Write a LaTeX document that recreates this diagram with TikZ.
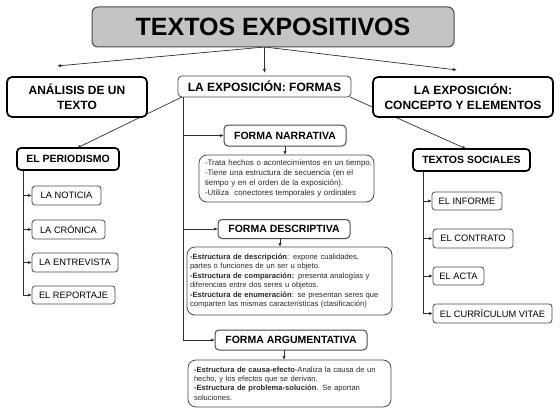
\documentclass[tikz,border=0pt]{standalone}
\usepackage{fontspec}
\setmainfont{Liberation Sans}
\usetikzlibrary{arrows.meta,backgrounds}
\definecolor{titlegray}{HTML}{C4C4C4}
\definecolor{edgegray}{HTML}{4A4A4A}
\definecolor{linegray}{HTML}{303030}
\definecolor{txtgray}{HTML}{2A2A2A}
\begin{document}
\begin{tikzpicture}[x=1pt,y=-1pt,
  base/.style={draw, fill=white, inner sep=0pt, outer sep=0pt, align=center},
  titlebox/.style={base, fill=titlegray, draw=edgegray, line width=1pt, rounded corners=6pt,
    font=\fontsize{25}{30}\selectfont\bfseries},
  mainbox/.style={base, draw=black, line width=1.7pt, rounded corners=5pt,
    font=\fontsize{12}{15}\selectfont\bfseries},
  formasbox/.style={base, draw=edgegray, line width=0.8pt, rounded corners=4pt,
    font=\fontsize{12}{15}\selectfont\bfseries},
  groupbox/.style={base, draw=black, line width=1.7pt, rounded corners=4pt,
    font=\fontsize{10.5}{13}\selectfont\bfseries},
  formbox/.style={base, draw=edgegray, line width=1pt, rounded corners=4pt,
    font=\fontsize{10.5}{13}\selectfont\bfseries},
  itembox/.style={base, draw=edgegray, line width=0.8pt, rounded corners=3pt,
    font=\fontsize{9.3}{11}\selectfont},
  textbox/.style={base, draw=edgegray, line width=0.8pt, rounded corners=8pt,
    align=left, text=txtgray, inner xsep=5pt,
    font=\fontsize{7.6}{9.4}\selectfont},
  conn/.style={draw=linegray, line width=0.7pt},
  arr/.style={conn, -{Latex[length=4pt,width=3.2pt]}}
]
\useasboundingbox (0,0) rectangle (560,420);

% top level
\node[titlebox, minimum width=362, minimum height=40] (title) at (273,27) {TEXTOS EXPOSITIVOS};
\node[mainbox, minimum width=140, minimum height=40] (analisis) at (77,97) {ANÁLISIS DE UN\\TEXTO};
\node[formasbox, minimum width=173, minimum height=21] (formas) at (264.5,86.5) {LA EXPOSICIÓN: FORMAS};
\node[mainbox, minimum width=180, minimum height=40] (concepto) at (463,97) {LA EXPOSICIÓN:\\CONCEPTO Y ELEMENTOS};

% left branch
\node[groupbox, minimum width=102, minimum height=22] (periodismo) at (68,159) {EL PERIODISMO};
\node[itembox, minimum width=69, minimum height=19] (noticia) at (66.5,195.5) {LA NOTICIA};
\node[itembox, minimum width=73, minimum height=19] (cronica) at (68.5,229.5) {LA CRÓNICA};
\node[itembox, minimum width=86, minimum height=19] (entrevista) at (75,262.5) {LA ENTREVISTA};
\node[itembox, minimum width=83, minimum height=18] (reportaje) at (73.5,295) {EL REPORTAJE};

% right branch
\node[groupbox, minimum width=117, minimum height=22] (sociales) at (471.5,160) {TEXTOS SOCIALES};
\node[itembox, minimum width=70, minimum height=18] (informe) at (467,201) {EL INFORME};
\node[itembox, minimum width=80, minimum height=19] (contrato) at (473,238.5) {EL CONTRATO};
\node[itembox, minimum width=51, minimum height=18] (acta) at (458.5,276) {EL ACTA};
\node[itembox, minimum width=119, minimum height=19] (curriculum) at (492.5,313.5) {EL CURRÍCULUM VITAE};

% middle branch
\node[formbox, minimum width=122, minimum height=21] (narrh) at (285,135.5) {FORMA NARRATIVA};
\node[textbox, inner xsep=6pt, text width=163, minimum height=47, font=\fontsize{7.9}{10}\selectfont] (narrt) at (286.5,178.5)
  {\mbox{-Trata hechos o acontecimientos en un tiempo.}\\
   \mbox{-Tiene una estructura de secuencia (en el}\\
   \mbox{tiempo y en el orden de la exposición).}\\
   \mbox{-Utiliza\ \ conectores temporales y ordinales}};

\node[formbox, minimum width=132, minimum height=19] (desch) at (284,229) {FORMA DESCRIPTIVA};
\node[textbox, inner xsep=3pt, text width=199, minimum height=68] (desct) at (289.5,281)
  {\mbox{\textbf{-Estructura de descripción}: expone cualidades,}\\
   \mbox{partes o funciones de un ser u objeto.}\\
   \mbox{\textbf{-Estructura de comparación:} presenta analogías y}\\
   \mbox{diferencias entre dos seres u objetos.}\\
   \mbox{\textbf{-Estructura de enumeración}: se presentan seres que}\\
   \mbox{comparten las mismas características (clasificación)}};

\node[formbox, minimum width=152, minimum height=20] (argh) at (291,340) {FORMA ARGUMENTATIVA};
\node[textbox, inner xsep=6pt, text width=191, minimum height=47] (argt) at (289.5,383.5)
  {\mbox{\textbf{-Estructura de causa-efecto}-Analiza la causa de un}\\
   \mbox{hecho, y los efectos que se derivan.}\\
   \mbox{\textbf{-Estructura de problema-solución}. Se aportan}\\
   \mbox{soluciones.}};

% connectors (behind the boxes)
\coordinate (tl) at (57,66);
\coordinate (tr) at (457,70);
\coordinate (ts) at (formas.north |- title.south);
\coordinate (pv) at ([xshift=6pt]periodismo.south west);
\coordinate (sv) at ([xshift=10pt]sociales.south west);
\coordinate (fv) at ([xshift=5pt]formas.south west);

\begin{scope}[on background layer]
\draw[arr] (ts) -- (tl);
\draw[arr, shorten >=3pt] (ts) -- (formas.north);
\draw[arr] (ts) -- (tr);

\draw[arr] ([xshift=4pt]formas.south west) -- ([xshift=9pt]periodismo.north);
\draw[arr] ([xshift=-1pt]formas.south east) -- ([xshift=-5pt]sociales.north);

\draw[arr] (fv) |- (argh.west);
\draw[arr] (fv |- narrh.west) -- (narrh.west);
\draw[arr] (fv |- desch.west) -- (desch.west);
\draw[arr] (narrh.south) -- (narrh.south |- narrt.north);
\draw[arr] ([xshift=-4pt]desch.south) -- ([xshift=-4pt]desch.south |- desct.north);
\draw[arr] ([xshift=-7pt]argh.south) -- ([xshift=-7pt]argh.south |- argt.north);

\draw[arr] (pv) |- (reportaje.west);
\draw[arr] (pv |- noticia.west) -- (noticia.west);
\draw[arr] (pv |- cronica.west) -- (cronica.west);
\draw[arr] (pv |- entrevista.west) -- (entrevista.west);

\draw[arr] (sv) |- (curriculum.west);
\draw[arr] (sv |- informe.west) -- (informe.west);
\draw[arr] (sv |- contrato.west) -- (contrato.west);
\draw[arr] (sv |- acta.west) -- (acta.west);
\end{scope}
\end{tikzpicture}
\end{document}
